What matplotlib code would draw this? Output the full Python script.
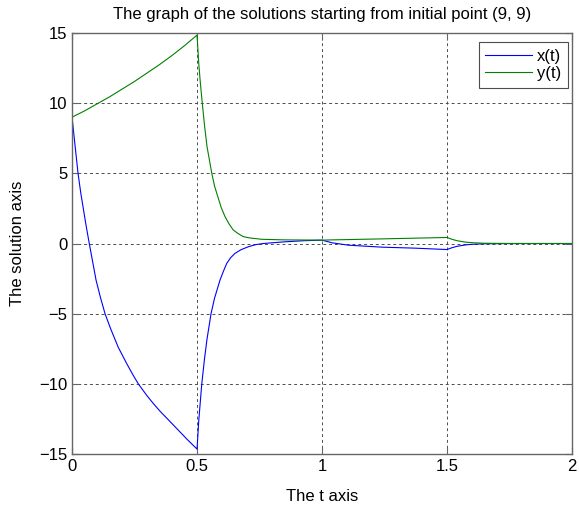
# Solutions x(t), y(t) starting from (9, 9)

import numpy as np
import matplotlib.pyplot as plt

plt.rcParams['font.family'] = ['Liberation Sans', 'DejaVu Sans']

# t in [0, 0.5]
t1 = [0, 0.006, 0.012, 0.024, 0.035, 0.045, 0.057, 0.069, 0.082, 0.096, 0.113,
      0.132, 0.155, 0.185, 0.22, 0.245, 0.265, 0.3, 0.325, 0.352, 0.39,
      0.425, 0.46, 0.5]
x1 = [9, 8.0, 7.0, 5.0, 3.6, 2.5, 1.2, 0, -1.25, -2.6, -3.8,
      -5.0, -6.1, -7.4, -8.6, -9.4, -10.0, -10.85, -11.4, -11.95, -12.65,
      -13.3, -13.95, -14.65]
t1g = [0, 0.05, 0.1, 0.15, 0.2, 0.25, 0.3, 0.35, 0.4, 0.45, 0.5]
y1 = [9, 9.45, 9.95, 10.45, 11.0, 11.55, 12.15, 12.75, 13.4, 14.1, 14.85]

# t in [0.5, 1]
t2b = [0.5, 0.507, 0.519, 0.53, 0.54, 0.556, 0.57, 0.592, 0.605, 0.619, 0.635,
       0.652, 0.675, 0.705, 0.735, 0.765, 0.85, 0.93, 1.0]
x2 = [-14.65, -12.6, -10.0, -8.2, -6.8, -5.0, -3.9, -2.6, -2.0, -1.41, -1.0,
      -0.7, -0.45, -0.23, -0.08, 0.0, 0.12, 0.2, 0.24]
t2g = [0.5, 0.507, 0.513, 0.521, 0.53, 0.54, 0.559, 0.57, 0.583, 0.597, 0.612,
       0.628, 0.645, 0.665, 0.685, 0.71, 0.759, 0.85, 0.93, 1.0]
y2 = [14.85, 12.8, 11.5, 10.0, 8.4, 6.9, 5.0, 4.1, 3.34, 2.55, 1.91,
      1.4, 0.96, 0.7, 0.49, 0.4, 0.3, 0.26, 0.25, 0.24]

# t in [1, 1.5]
t3 = [1.0, 1.04, 1.106, 1.24, 1.37, 1.5]
x3 = [0.24, 0.05, -0.12, -0.26, -0.33, -0.43]
y3 = [0.24, 0.26, 0.28, 0.33, 0.38, 0.43]

# t in [1.5, 2]
t4 = [1.5, 1.51, 1.52, 1.53, 1.54, 1.57, 1.585, 1.6, 1.62, 1.65, 1.7, 1.8, 2.0]
x4 = [-0.43, -0.36, -0.3, -0.25, -0.2, -0.11, -0.08, -0.06, -0.04, -0.02, -0.01, 0, 0]
y4 = [0.43, 0.36, 0.3, 0.25, 0.2, 0.11, 0.08, 0.06, 0.04, 0.02, 0.01, 0, 0]

t_x = t1 + t2b[1:] + t3[1:] + t4[1:]
x_vals = x1 + x2[1:] + x3[1:] + x4[1:]
t_y = t1g + t2g[1:] + t3[1:] + t4[1:]
y_vals = y1 + y2[1:] + y3[1:] + y4[1:]

fig = plt.figure(figsize=(5.79, 5.08), dpi=100)
ax = fig.add_axes([0.1244, 0.1063, 0.8636, 0.8287])

ax.plot(t_x, x_vals, color=(0, 0, 1), lw=0.8, label='x(t)')
ax.plot(t_y, y_vals, color=(0, 0.5, 0), lw=0.8, label='y(t)')

ax.set_xlim(0, 2)
ax.set_ylim(-15, 15)
ax.set_xticks([0, 0.5, 1, 1.5, 2])
ax.set_xticklabels(['0', '0.5', '1', '1.5', '2'])
ax.set_yticks(np.arange(-15, 16, 5))
ax.grid(True, color='0.3', linestyle=(0, (3, 3)), linewidth=0.7)
ax.tick_params(direction='in', top=True, right=True, length=5,
               labelsize=12, color='0.4')
for s in ax.spines.values():
    s.set_color('0.4')
    s.set_linewidth(1)

ax.set_title('The graph of the solutions starting from initial point (9, 9)',
             fontsize=12, pad=10)
ax.set_xlabel('The t axis', fontsize=12, labelpad=11)
ax.set_ylabel('The solution axis', fontsize=12, labelpad=10)

leg = ax.legend(loc='upper right', bbox_to_anchor=(0.992, 0.979),
                fancybox=False, edgecolor='0.3', framealpha=1, fontsize=12,
                handlelength=2.8, borderaxespad=0, labelspacing=0.15,
                handletextpad=0.3, borderpad=0.4)
leg.get_frame().set_linewidth(0.8)

fig.savefig('out.png', dpi=100)
